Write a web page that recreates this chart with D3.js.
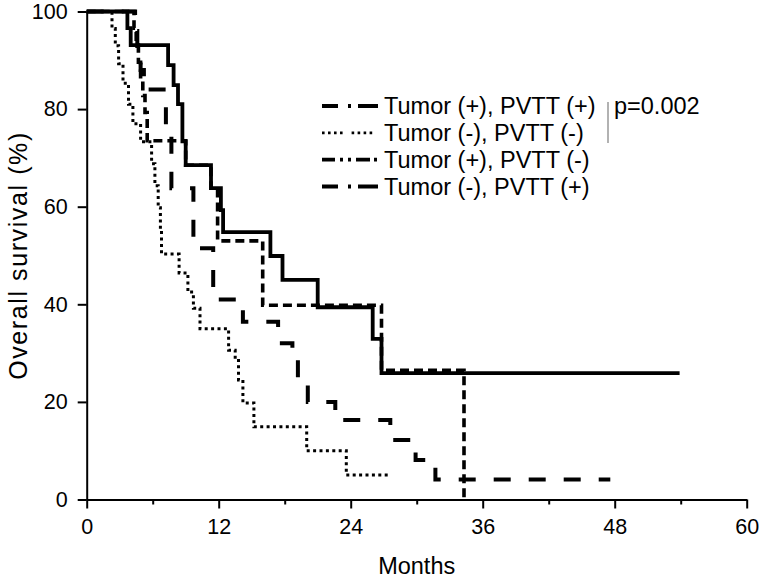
<!DOCTYPE html>
<html>
<head>
<meta charset="utf-8">
<script src="https://cdn.jsdelivr.net/npm/d3@7"></script>
<style>
  html, body { margin: 0; padding: 0; background: #fff; }
  svg { display: block; }
  text { font-family: "Liberation Sans", Arial, sans-serif; fill: #000; }
</style>
</head>
<body>
<svg id="chart" width="760" height="579"></svg>
<script>
// ---------- data ----------
const xTicks = [0, 12, 24, 36, 48, 60];
const xMinorTicks = [6, 18, 30, 42, 54];
const yTicks = [0, 20, 40, 60, 80, 100];
const xTitle = "Months";
const yTitle = "Overall survival (%)";
const legendLabels = ["Tumor (+), PVTT (+)", "Tumor (-), PVTT (-)", "Tumor (+), PVTT (-)", "Tumor (-), PVTT (+)"];
const pValueLabel = "p=0.002";

// solid curve
const solidTime = [0, 3.7, 4.0, 7.4, 7.9, 8.3, 8.7, 9.0, 11.3, 12.2, 12.4, 16.7, 17.8, 21.0, 26.0, 26.8];
const solidSurv = [100, 96.6, 93.1, 89.0, 84.9, 81.0, 73.4, 68.5, 63.8, 59.3, 54.8, 49.9, 45.0, 39.4, 32.9, 25.9];
const solidEnd = 53.9;

// dotted curve
const dottedTime = [0, 2.3, 2.6, 2.9, 3.3, 3.8, 4.2, 4.9, 5.9, 6.2, 6.5, 6.7, 6.8, 8.4, 9.2, 9.7, 10.3, 12.9, 13.5, 13.8, 14.2, 15.2, 20.0, 23.6];
const dottedSurv = [100, 96.5, 93, 89.3, 85.3, 81, 77, 73.3, 68.8, 64.3, 59.8, 55, 50.3, 46.4, 42.5, 39.2, 35, 30.6, 28.5, 24.5, 19.8, 14.9, 10, 5];
const dottedEnd = 27.6;

// short-dashed curve
const shortDashTime = [0, 4.3, 4.5, 4.7, 4.9, 5.1, 5.3, 5.5, 9.0, 11.3, 11.9, 16.0, 26.8, 34.3];
const shortDashSurv = [100, 96.6, 93.1, 89.6, 86.2, 82.8, 79.3, 73.5, 68.5, 63.8, 53, 39.8, 26.5, 0];
const shortDashEnd = 34.3;

// long-dashed curve
const longDashTime = [0, 4.4, 4.6, 4.9, 5.2, 7.2, 7.7, 9.7, 11.5, 14.2, 17.4, 18.7, 19.2, 20.1, 22.6, 27.6, 29.9, 31.7];
const longDashSurv = [100, 96, 92, 88, 84, 76.5, 63.8, 51.5, 41, 36.4, 32, 28.6, 24, 20, 16.3, 12.2, 8.1, 4.1];
const longDashEnd = 47.6;

// ---------- drawing ----------
const svg = d3.select("#chart");
const x = d3.scaleLinear().domain([0, 60]).range([86.7, 746.7]);
const y = d3.scaleLinear().domain([0, 100]).range([499.5, 11.5]);

function toPoints(times, surv, end) {
  const pts = times.map((t, i) => [t, surv[i]]);
  pts.push([end, surv[surv.length - 1]]);
  return pts;
}
const stepLine = d3.line().x(d => x(d[0])).y(d => y(d[1])).curve(d3.curveStepAfter);

const series = [
  { pts: toPoints(dottedTime, dottedSurv, dottedEnd), w: 3, dash: "3,3.4" },
  { pts: toPoints(longDashTime, longDashSurv, longDashEnd), w: 4, dash: "17,18" },
  { pts: toPoints(shortDashTime, shortDashSurv, shortDashEnd), w: 3.6, dash: "9,5" },
  { pts: toPoints(solidTime, solidSurv, solidEnd), w: 3.8, dash: null }
];

svg.append("g").selectAll("path").data(series).join("path")
  .attr("d", d => stepLine(d.pts))
  .attr("fill", "none")
  .attr("stroke", "#000")
  .attr("stroke-width", d => d.w)
  .attr("stroke-dasharray", d => d.dash);

// axes
const fontSize = "21.5px";
const yAxis = svg.append("g").attr("transform", `translate(${x(0)},0)`)
  .call(d3.axisLeft(y).tickValues(yTicks).tickSize(9).tickSizeOuter(0).tickPadding(10).tickFormat(d3.format("d")));
const xAxis = svg.append("g").attr("transform", `translate(0,${y(0)})`)
  .call(d3.axisBottom(x).tickValues(xTicks).tickSize(9).tickSizeOuter(0).tickPadding(10).tickFormat(d3.format("d")));
const xMinor = svg.append("g").attr("transform", `translate(0,${y(0)})`)
  .call(d3.axisBottom(x).tickValues(xMinorTicks).tickSize(5).tickSizeOuter(0).tickFormat(""));
xMinor.select(".domain").remove();
[yAxis, xAxis, xMinor].forEach(g => {
  g.selectAll("path, line").attr("stroke", "#000").attr("stroke-width", 2);
  g.selectAll("text").style("font-size", fontSize).style("font-family", '"Liberation Sans", Arial, sans-serif').attr("fill", "#000");
});

// axis titles
svg.append("text").attr("x", x(30)).attr("y", 574).attr("text-anchor", "middle")
  .style("font-size", "23.5px").text(xTitle);
svg.append("text").attr("transform", `translate(27,${(y(0) + y(100)) / 2}) rotate(-90)`)
  .attr("text-anchor", "middle").style("font-size", "25px").style("letter-spacing", "1.6px").text(yTitle);

// legend
const legendDash = ["16,10,3,7,22", "2.6,3.4,2.6,3.4,2.6,3.4,2.6,9", "13,5,3,5,3,5,14,4,3,100", "16,10,3,7,22"];
const legendWidths = [3.8, 2.8, 3.6, 3.8];
const legendY = d3.scaleLinear().domain([0, 3]).range([106, 186.5]);
const lg = svg.append("g");
legendLabels.forEach((lab, i) => {
  lg.append("line").attr("x1", 322).attr("x2", 378)
    .attr("y1", legendY(i)).attr("y2", legendY(i))
    .attr("stroke", "#000").attr("stroke-width", legendWidths[i])
    .attr("stroke-dasharray", legendDash[i]);
  lg.append("text").attr("x", 384).attr("y", legendY(i)).attr("dy", "0.36em")
    .style("font-size", "23.5px").text(lab);
});
lg.append("line").attr("x1", 608).attr("x2", 608).attr("y1", 102).attr("y2", 143)
  .attr("stroke", "#999").attr("stroke-width", 1.5);
lg.append("text").attr("x", 614).attr("y", legendY(0)).attr("dy", "0.36em")
  .style("font-size", "23.5px").text(pValueLabel);
</script>
</body>
</html>
